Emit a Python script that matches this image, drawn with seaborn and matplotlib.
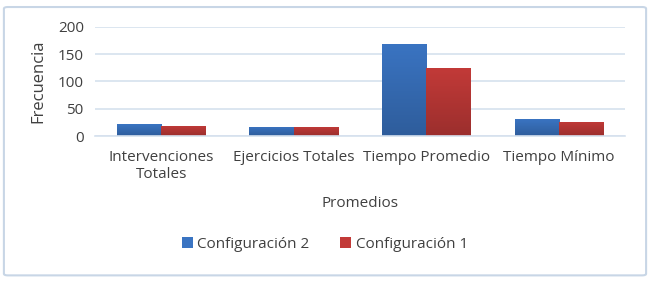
import numpy as np
import pandas as pd
import matplotlib
matplotlib.use("Agg")
import matplotlib.pyplot as plt
import matplotlib.colors as mcolors
import seaborn as sns
from matplotlib.patches import FancyBboxPatch

categorias = ["Intervenciones\nTotales", "Ejercicios Totales", "Tiempo Promedio", "Tiempo Mínimo"]
config2 = [22, 17, 169, 31]
config1 = [19, 17, 124, 26]
series = ["Configuración 2", "Configuración 1"]
colores = ["#3a74c2", "#c23a38"]

df = pd.DataFrame({
    "categoria": categorias * 2,
    "valor": config2 + config1,
    "serie": [series[0]] * 4 + [series[1]] * 4,
})

sns.set_style("white")
plt.rcParams["font.family"] = ["Open Sans", "DejaVu Sans"]
texto = "#404040"
grid = "#d6e1ee"

fig = plt.figure(figsize=(6.5, 2.81), dpi=100)
ax = fig.add_axes([0.146, 0.516, 0.816, 0.388])

sns.barplot(data=df, x="categoria", y="valor", hue="serie", palette=colores,
            width=0.67, saturation=1, linewidth=0, ax=ax, legend=True)

# degradado vertical estilo Excel: claro arriba, oscuro abajo
grad = np.linspace(0, 1, 256).reshape(-1, 1)
for p in ax.patches:
    if p.get_height() <= 0:
        continue
    base = np.array(mcolors.to_rgb(p.get_facecolor()))
    oscuro = base * 0.8
    cmap = mcolors.LinearSegmentedColormap.from_list("g", [oscuro, base])
    x0, y0 = p.get_x(), p.get_y()
    im = ax.imshow(grad, cmap=cmap, aspect="auto", origin="lower",
                   extent=[x0, x0 + p.get_width(), y0, y0 + p.get_height()], zorder=p.get_zorder())
    im.set_clip_path(p)

ax.set_xlim(-0.5, 3.5)
ax.set_ylim(0, 200)
ax.set_yticks([0, 50, 100, 150, 200])
ax.yaxis.grid(True, color=grid, linewidth=1.2)
ax.set_axisbelow(True)
for s in ["top", "right", "left"]:
    ax.spines[s].set_visible(False)
ax.spines["bottom"].set_color(grid)
ax.spines["bottom"].set_linewidth(1.2)
ax.tick_params(axis="y", length=0, labelsize=11, colors=texto, pad=8)
ax.tick_params(axis="x", length=0, labelsize=11, colors=texto, pad=10)
ax.set_xlabel("Promedios", fontsize=11, color=texto, labelpad=10)
ax.set_ylabel("Frecuencia", fontsize=12, color=texto, labelpad=8)

handles, labels = ax.get_legend_handles_labels()
ax.legend_.remove()
fig.legend(handles, labels, loc="center", bbox_to_anchor=(0.5, 0.13), ncol=2,
           frameon=False, fontsize=11, handlelength=0.7, handleheight=0.7,
           handletextpad=0.3, columnspacing=2.0, labelcolor=texto)

borde = FancyBboxPatch((0.006, 0.02), 0.988, 0.955, boxstyle="round,pad=0,rounding_size=0.006",
                       transform=fig.transFigure, fill=False, edgecolor="#c8d6e6", linewidth=1.5)
fig.patches.append(borde)

fig.savefig("out.png", dpi=100)
